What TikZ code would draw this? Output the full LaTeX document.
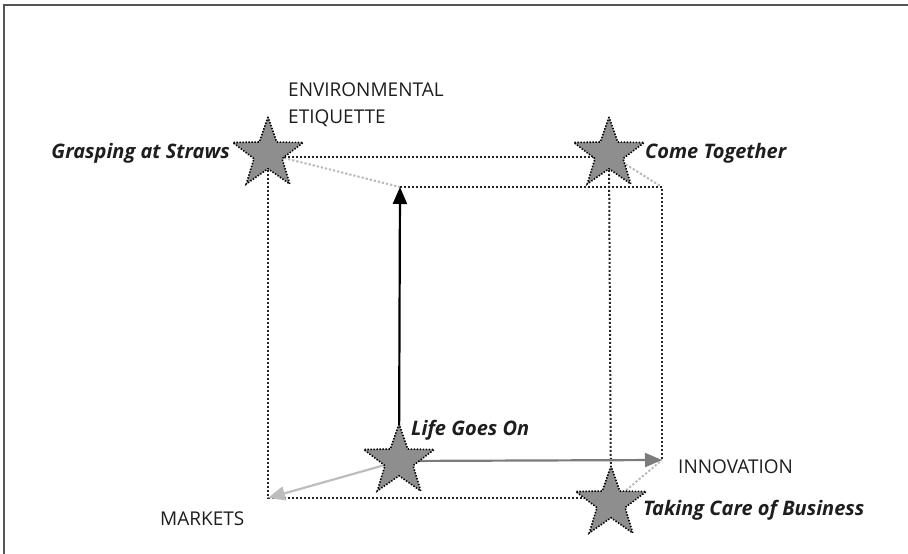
\documentclass[tikz,border=0pt]{standalone}
\usepackage{fontspec}
\setmainfont{Open Sans}
\usepackage{tikz}
\usetikzlibrary{arrows.meta,backgrounds,shapes.geometric}
\definecolor{FrameGray}{HTML}{555555}
\definecolor{StarGray}{HTML}{8E8E8E}
\definecolor{EdgeDark}{HTML}{262626}
\definecolor{EdgeLight}{HTML}{B8B8B8}
\definecolor{AxisMid}{HTML}{7C7C7C}
\definecolor{AxisLight}{HTML}{BDBDBD}
\definecolor{LabelInk}{HTML}{1E1E1E}
\tikzset{
  scenario/.style={star,star points=5,star point ratio=2.5,minimum size=74pt,inner sep=0pt,
    fill=StarGray,draw=black,line width=1.6pt,dash pattern=on 1.4pt off 1.6pt},
  edge/.style={draw=EdgeDark,line width=2pt,dash pattern=on 2pt off 2pt},
  backedge/.style={draw=EdgeLight,line width=2pt,dash pattern=on 2.2pt off 2pt},
  axis/.style={-{Triangle[length=17pt,width=14pt]},line width=2.2pt},
  axislabel/.style={font=\fontsize{19}{27}\selectfont,text=LabelInk,inner sep=0pt,align=left},
  scenlabel/.style={font=\fontsize{20}{24}\selectfont\bfseries\itshape,text=LabelInk,inner sep=0pt}
}

\begin{document}
\begin{tikzpicture}[x=1pt,y=-1pt]
  \useasboundingbox (0,0) rectangle (908,554);
  % open frame, top and left only
  \draw[FrameGray,line width=2pt] (4,554) -- (4,5) -- (908,5);

  \node[scenario] (gas) at (268,154) {};
  \node[scenario] (come) at (609,154) {};
  \node[scenario] (life) at (399,461) {};
  \node[scenario] (tcob) at (611,503) {};

  \coordinate (btl) at (400,187);
  \coordinate (btr) at (662,187);
  \coordinate (bbr) at (662,460);
  \coordinate (fbl) at (268,498);

  \node[axislabel,anchor=north west] (env) at (288,83) {ENVIRONMENTAL\\ETIQUETTE};
  \node[axislabel,anchor=west] (inno) at (678,467) {INNOVATION};
  \node[axislabel,anchor=west] (mkt) at (160,519) {MARKETS};
  \node[scenlabel,anchor=east] (gaslbl) at (230,153) {Grasping at Straws};
  \node[scenlabel,anchor=west] (comelbl) at (645,153) {Come Together};
  \node[scenlabel,anchor=west] (lifelbl) at (411,430) {Life Goes On};
  \node[scenlabel,anchor=west] (tcoblbl) at (643,510) {Taking Care of Business};

  \begin{scope}[on background layer]
    \draw[backedge] (gas) -- (btl);
    \draw[backedge] (come) -- (btr);
    \draw[backedge] (tcob) -- (bbr);
    \draw[edge] (btl) -- (btr) -- (bbr);
    \draw[edge] ([yshift=-3pt]gas.center) -- ([yshift=-3pt]gas.center -| come);
    \draw[edge] (gas) -- (gas |- fbl) -- (fbl -| tcob);
    \draw[edge] (come) -- (tcob);
    \draw[axis,black] (life.center) -- (btl);
    \draw[axis,AxisMid] (life.center) -- (bbr);
    \draw[axis,AxisLight] (life.center) -- (fbl);
  \end{scope}
\end{tikzpicture}
\end{document}
